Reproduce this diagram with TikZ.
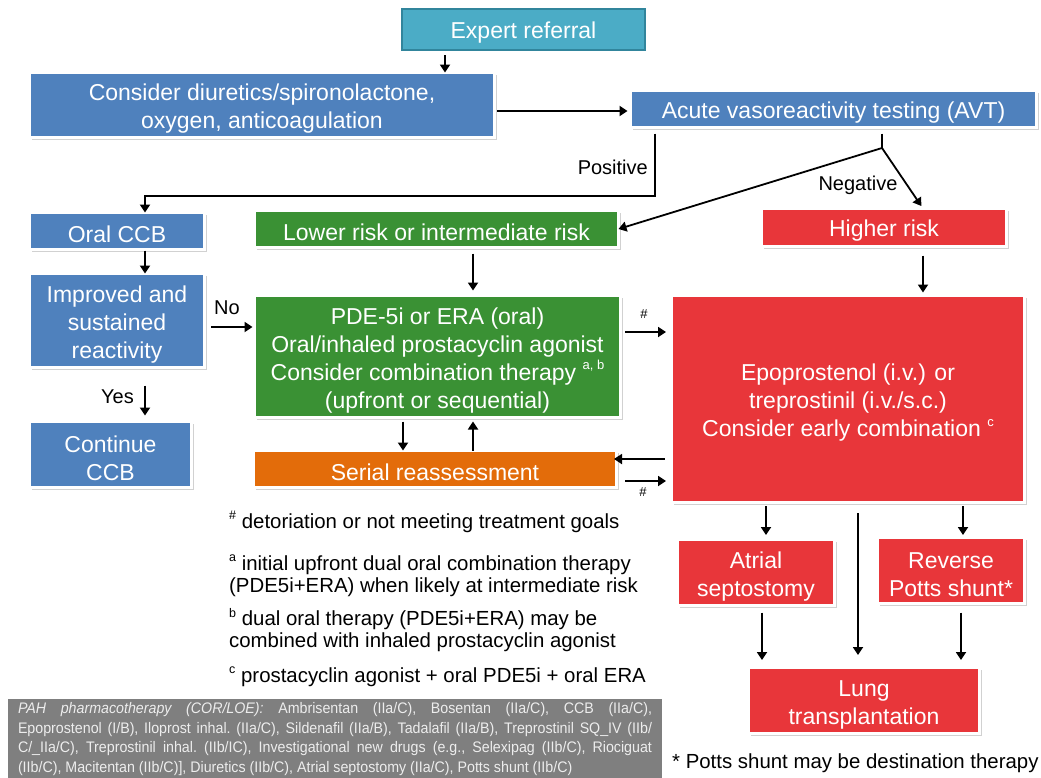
\documentclass[tikz,border=0pt]{standalone}
\usepackage{fontspec}
\setmainfont{Liberation Sans}
\newfontfamily\narrowfont[FakeStretch=0.93]{Liberation Sans}
\usetikzlibrary{arrows.meta,shadows,calc}
\definecolor{cblue}{HTML}{4F81BD}
\definecolor{cteal}{HTML}{4BACC6}
\definecolor{ctealdk}{HTML}{31859C}
\definecolor{cgreen}{HTML}{3A9134}
\definecolor{cred}{HTML}{E8363A}
\definecolor{corange}{HTML}{E36C0A}
\definecolor{cgray}{HTML}{7F7F7F}
\definecolor{cgraytext}{HTML}{EDEDED}
\newcommand\supx[1]{\raisebox{0.45em}{\fontsize{13}{13}\selectfont #1}}
\newcommand\supf[1]{\raisebox{0.42em}{\fontsize{12.5}{13}\selectfont #1}}
\newcommand\tstrut{\rule{0pt}{24pt}}
\begin{document}
\begin{tikzpicture}[x=1pt,y=-1pt,
  boxtext/.style={text=white, align=center, font=\fontsize{23}{28}\selectfont,
    execute at begin node={\rule{0pt}{23pt}}},
  box/.style={boxtext, draw=white, line width=3pt, inner sep=0pt, outer sep=0pt,
    drop shadow={shadow xshift=2.5pt, shadow yshift=-2.5pt, fill=black!40, opacity=0.45}},
  arr/.style={-{Triangle[width=10pt,length=8pt]}, line width=1.8pt},
  ln/.style={line width=1.8pt},
  lbl/.style={font=\fontsize{20}{22}\selectfont, inner sep=0pt},
  hsh/.style={font=\fontsize{13}{13}\selectfont, inner sep=0pt},
  fn/.style={font=\fontsize{20.4}{22}\selectfont, align=left, anchor=west, inner sep=0pt}
]
\useasboundingbox (0,0) rectangle (1041,777);

% nodes
\node[boxtext, fill=cteal, draw=ctealdk, line width=1.5pt, inner sep=0pt, outer sep=0pt,
  minimum width=243pt, minimum height=41pt] (expert) at (523.5,29.5) {Expert referral};
\node[box, fill=cblue, minimum width=465pt, minimum height=65pt] (consider) at (262,105)
  {\tstrut Consider diuretics/spironolactone,\\ oxygen, anticoagulation};
\node[box, fill=cblue, minimum width=406pt, minimum height=37pt] (avt) at (833.5,109)
  {Acute vasoreactivity testing (AVT)};
\node[box, fill=cblue, minimum width=175pt, minimum height=37pt] (oralccb) at (117,231) {Oral CCB};
\node[box, fill=cgreen, minimum width=364pt, minimum height=37pt] (lower) at (436.5,229) {Lower risk or intermediate risk};
\node[box, fill=cred, minimum width=245pt, minimum height=38pt] (higher) at (884,227.5) {Higher risk};
\node[box, fill=cblue, minimum width=175pt, minimum height=94pt] (improved) at (117,320.5)
  {\tstrut Improved and\\ sustained\\ reactivity};
\node[box, fill=cgreen, minimum width=366pt, minimum height=122pt] (pde) at (437.5,356.5)
  {\tstrut PDE-5i or ERA (oral)\\ Oral/inhaled prostacyclin agonist\\ Consider combination therapy \supx{a, b}\\ (upfront or sequential)};
\node[box, fill=cblue, minimum width=162pt, minimum height=66pt] (cont) at (110.5,454.5) {\tstrut Continue\\ CCB};
\node[box, fill=corange, minimum width=363pt, minimum height=37pt] (serial) at (435,469) {Serial reassessment};
\node[box, fill=cred, minimum width=353pt, minimum height=207pt] (epo) at (848,399)
  {\tstrut Epoprostenol (i.v.) or\\ treprostinil (i.v./s.c.)\\ Consider early combination \supx{c}};
\node[box, fill=cred, minimum width=157pt, minimum height=66pt] (atrial) at (756,572.5) {\tstrut Atrial\\ septostomy};
\node[box, fill=cred, minimum width=147pt, minimum height=66pt] (potts) at (951,570.5) {\tstrut Reverse\\ Potts shunt*};
\node[box, fill=cred, minimum width=231pt, minimum height=66pt] (lung) at (864,700.5) {\tstrut Lung\\ transplantation};

% helper coordinates
\coordinate (posb) at (655,196);
\coordinate (lx) at (145,0);
\coordinate (split) at (882,148);
\coordinate (hx) at (923,0);
\coordinate (ux) at (473,0);
\coordinate (dx) at (403,0);
\coordinate (noy) at (0,327);
\coordinate (r1) at (0,332);
\coordinate (r2) at (0,459);
\coordinate (r3) at (0,481);
\coordinate (ax) at (766,0);
\coordinate (px) at (963,0);
\coordinate (mx) at (858,0);
\coordinate (alx) at (762,0);
\coordinate (plx) at (961,0);

% connectors
\draw[arr, shorten <=5pt] ([xshift=43pt]expert.south west) -- ([xshift=43pt]expert.south west |- consider.north);
\draw[arr, shorten <=2.5pt, shorten >=3pt] ([yshift=-6pt]consider.east) -- ([yshift=-6pt]consider.east -| avt.west);
\draw[arr, shorten <=6pt] (avt.south -| posb) -- (posb) -- (posb -| lx) -- (lx |- oralccb.north);
\node[lbl, anchor=east] at (648,167) {Positive};
\draw[ln, shorten <=6pt] (avt.south -| split) -- (split);
\draw[arr] (split) -- (lower.east);
\draw[arr, shorten >=3pt] (split) -- (hx |- higher.north);
\node[lbl] at (858,185) {Negative};
\draw[arr, shorten <=1pt] (oralccb.south -| lx) -- (lx |- improved.north);
\draw[arr, shorten <=18pt, shorten >=6pt] (improved.south -| lx) -- (lx |- cont.north);
\node[lbl, anchor=east] at (134,397) {Yes};
\draw[arr, shorten <=6.5pt, shorten >=2pt] (improved.east |- noy) -- (pde.west |- noy);
\node[lbl] at (227,308) {No};
\draw[arr, shorten <=6pt, shorten >=5pt] (lower.south -| ux) -- (ux |- pde.north);
\draw[arr, shorten <=4pt] (pde.south -| dx) -- (dx |- serial.north);
\draw[arr, shorten >=4pt] (serial.north -| ux) -- (ux |- pde.south);
\draw[arr, shorten <=9pt, shorten >=3pt] (higher.south -| hx) -- (hx |- epo.north);
\draw[arr, shorten <=4.5pt, shorten >=5.5pt] (pde.east |- r1) -- (epo.west |- r1);
\node[hsh] at (644,314) {\#};
\draw[arr, shorten <=7pt, shorten >=-2.5pt] (epo.west |- r2) -- (serial.east |- r2);
\draw[arr, shorten <=8.5pt, shorten >=5.5pt] (serial.east |- r3) -- (epo.west |- r3);
\node[hsh] at (643,492) {\#};
\draw[arr, shorten <=3.5pt, shorten >=4.5pt] (epo.south -| ax) -- (ax |- atrial.north);
\draw[arr, shorten <=3.5pt, shorten >=2.5pt] (epo.south -| px) -- (px |- potts.north);
\draw[arr, shorten <=10.5pt, shorten >=12.5pt] (epo.south -| mx) -- (mx |- lung.north);
\draw[arr, shorten <=7pt, shorten >=7.5pt] (atrial.south -| alx) -- (alx |- lung.north);
\draw[arr, shorten <=9pt, shorten >=7.5pt] (potts.south -| plx) -- (plx |- lung.north);

% footnotes
\node[fn] (f1) at (229,522) {\supf{\#} detoriation or not meeting treatment goals};
\node[fn] (f2) at (229,575.5) {\supf{a} initial upfront dual oral combination therapy\\(PDE5i+ERA) when likely at intermediate risk};
\node[fn] (f3) at (229,630) {\supf{b} dual oral therapy (PDE5i+ERA) may be\\combined with inhaled prostacyclin agonist};
\node[fn] (f4) at (229,677) {\supf{c} prostacyclin agonist + oral PDE5i + oral ERA};
\node[fn] (f5) at (672,763) {* Potts shunt may be destination therapy};

% COR/LOE box
\node[fill=cgray, anchor=north west, text width=634pt, inner xsep=10pt, inner ysep=0pt,
  minimum height=80pt, align=justify, text=cgraytext, outer sep=0pt,
  font=\narrowfont\fontsize{15.3}{19.8}\selectfont\frenchspacing] (cor) at (8,699)
  {\textit{PAH pharmacotherapy (COR/LOE):} Ambrisentan (IIa/C), Bosentan (IIa/C), CCB (IIa/C),\linebreak
  Epoprostenol (I/B), Iloprost inhal. (IIa/C), Sildenafil (IIa/B), Tadalafil (IIa/B), Treprostinil SQ\_IV (IIb/\linebreak
  C/\_IIa/C), Treprostinil inhal. (IIb/IC), Investigational new drugs (e.g., Selexipag (IIb/C), Riociguat\linebreak
  (IIb/C), Macitentan (IIb/C)], Diuretics (IIb/C), Atrial septostomy (IIa/C), Potts shunt (IIb/C)\par};
\end{tikzpicture}
\end{document}
